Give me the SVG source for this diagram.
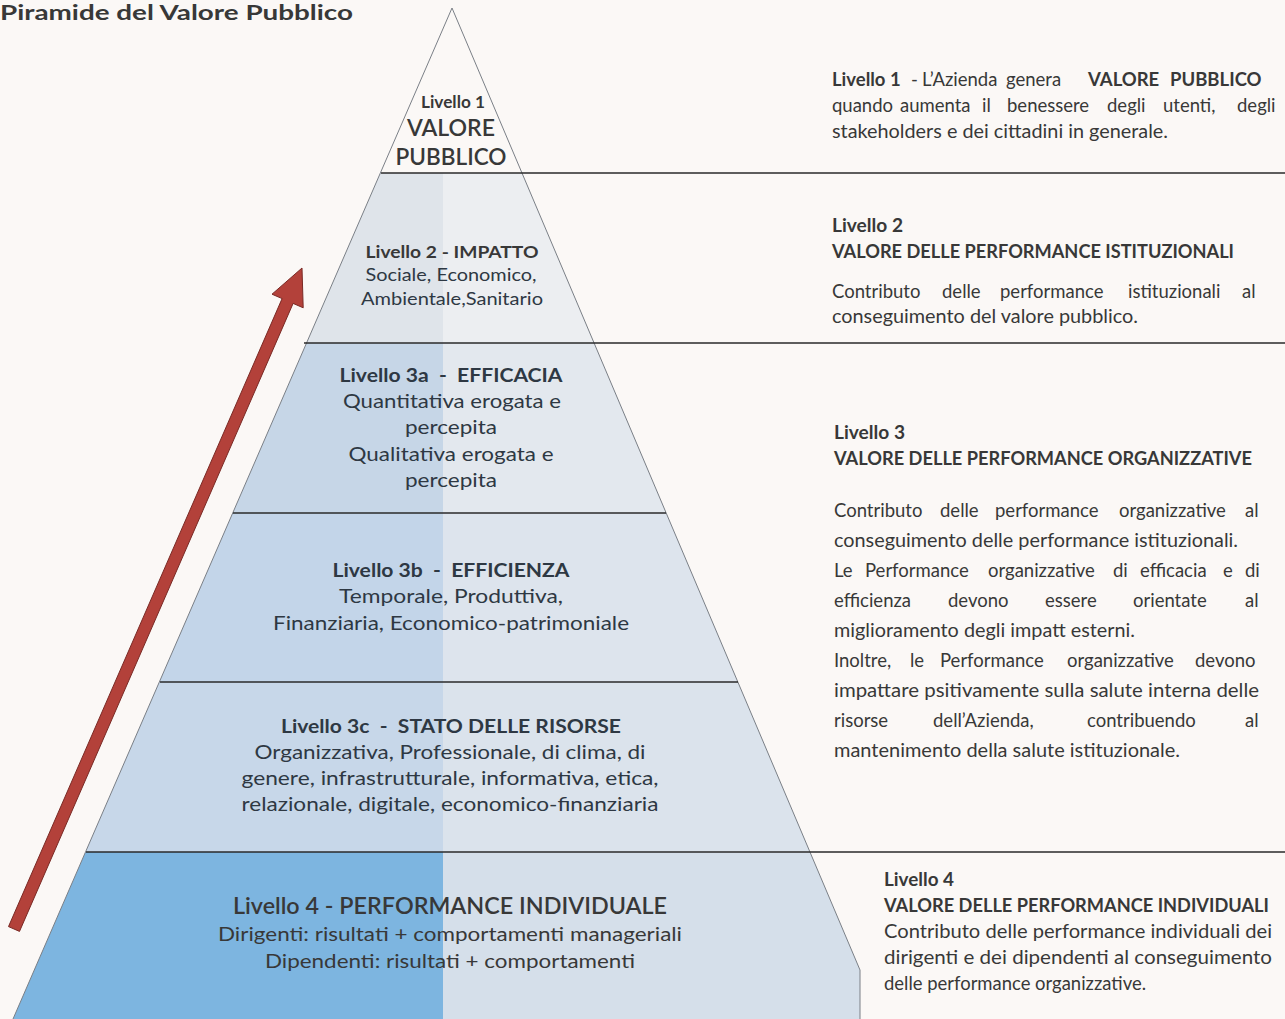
<svg xmlns="http://www.w3.org/2000/svg" width="1285" height="1019" viewBox="0 0 1285 1019">
<style>
text{font-family:Lato,"Liberation Sans",sans-serif;fill:#383838}
.b{font-weight:bold}
.pt{fill:#2e3843}
.mid{text-anchor:middle}
.div{stroke:#2a2a2a;stroke-width:1.6;fill:none}
</style>
<defs>
<clipPath id="pyr"><polygon points="452,8 860,970 860,1019 13,1019"/></clipPath>
</defs>
<rect width="1285" height="1019" fill="#fbf8f6"/>

<g id="title"><text x="0" y="20" class="b" font-size="21.5" fill="#444" textLength="353" lengthAdjust="spacingAndGlyphs">Piramide del Valore Pubblico</text></g>

<g id="pyramid-bands" clip-path="url(#pyr)">
<rect x="0" y="173" width="443" height="170" fill="#dfe4ea"/>
<rect x="443" y="173" width="450" height="170" fill="#eceef1"/>
<rect x="0" y="343" width="443" height="170" fill="#c6d6e7"/>
<rect x="443" y="343" width="450" height="170" fill="#e3e8ee"/>
<rect x="0" y="513" width="443" height="169" fill="#c3d5e9"/>
<rect x="443" y="513" width="450" height="169" fill="#dde4ed"/>
<rect x="0" y="682" width="443" height="170" fill="#c7d7e9"/>
<rect x="443" y="682" width="450" height="170" fill="#dbe3ec"/>
<rect x="0" y="852" width="443" height="167" fill="#7db5e0"/>
<rect x="443" y="852" width="450" height="167" fill="#d5dfea"/>
</g>
<polyline points="13,1019 452,8 860,970 860,1019" fill="none" stroke="#7a7f86" stroke-width="1"/>

<g id="dividers">
<line class="div" x1="381" y1="173" x2="1285" y2="173"/>
<line class="div" x1="304" y1="343" x2="1285" y2="343"/>
<line class="div" x1="233" y1="513" x2="666" y2="513" stroke="#555"/>
<line class="div" x1="160" y1="682" x2="738" y2="682" stroke="#555"/>
<line class="div" x1="86" y1="852" x2="1285" y2="852" stroke="#4a2a2c"/>
</g>

<g id="connectors">
<polygon points="8.5,926.6 282.1,298.6 272,294.2 302,268 303.2,307.8 293.1,303.4 19.5,931.4" fill="#b3413a" stroke="#7a2a25" stroke-width="1" stroke-linejoin="round"/>
</g>

<g id="level1">
<text x="453" y="108" class="mid b" font-size="17.5" fill="#3a3a3a" textLength="64" lengthAdjust="spacingAndGlyphs">Livello 1</text>
<text x="451" y="136" class="mid" font-size="23" fill="#333" font-weight="600" textLength="88" lengthAdjust="spacingAndGlyphs">VALORE</text>
<text x="451" y="165" class="mid" font-size="23" fill="#333" font-weight="600" textLength="111" lengthAdjust="spacingAndGlyphs">PUBBLICO</text>
</g>

<g id="level2">
<text x="452" y="258" class="mid b" font-size="17.5" textLength="173" lengthAdjust="spacingAndGlyphs">Livello 2 - IMPATTO</text>
<text x="451" y="281" class="mid pt" font-size="17.5" textLength="171" lengthAdjust="spacingAndGlyphs">Sociale, Economico,</text>
<text x="452" y="305" class="mid pt" font-size="17.5" textLength="182" lengthAdjust="spacingAndGlyphs">Ambientale,Sanitario</text>
</g>

<g id="level3a">
<text x="451" y="382" class="mid b pt" font-size="19.5" xml:space="preserve" textLength="223" lengthAdjust="spacingAndGlyphs">Livello 3a  -  EFFICACIA</text>
<text x="452" y="408" class="mid pt" font-size="20" textLength="218" lengthAdjust="spacingAndGlyphs">Quantitativa erogata e</text>
<text x="451" y="434" class="mid pt" font-size="20" textLength="92" lengthAdjust="spacingAndGlyphs">percepita</text>
<text x="451" y="461" class="mid pt" font-size="20" textLength="205" lengthAdjust="spacingAndGlyphs">Qualitativa erogata e</text>
<text x="451" y="487" class="mid pt" font-size="20" textLength="92" lengthAdjust="spacingAndGlyphs">percepita</text>
</g>

<g id="level3b">
<text x="451" y="577" class="mid b pt" font-size="19.5" xml:space="preserve" textLength="237" lengthAdjust="spacingAndGlyphs">Livello 3b  -  EFFICIENZA</text>
<text x="451" y="603" class="mid pt" font-size="20" textLength="224" lengthAdjust="spacingAndGlyphs">Temporale, Produttiva,</text>
<text x="451" y="630" class="mid pt" font-size="20" textLength="356" lengthAdjust="spacingAndGlyphs">Finanziaria, Economico-patrimoniale</text>
</g>

<g id="level3c">
<text x="451" y="733" class="mid b pt" font-size="19.5" xml:space="preserve" textLength="340" lengthAdjust="spacingAndGlyphs">Livello 3c  -  STATO DELLE RISORSE</text>
<text x="450" y="759" class="mid pt" font-size="20" textLength="391" lengthAdjust="spacingAndGlyphs">Organizzativa, Professionale, di clima, di</text>
<text x="450" y="785" class="mid pt" font-size="20" textLength="417" lengthAdjust="spacingAndGlyphs">genere, infrastrutturale, informativa, etica,</text>
<text x="450" y="811" class="mid pt" font-size="20" textLength="417" lengthAdjust="spacingAndGlyphs">relazionale, digitale, economico-finanziaria</text>
</g>

<g id="level4">
<text x="450" y="914" class="mid" font-size="22.5" font-weight="600" fill="#35506b" textLength="434" lengthAdjust="spacingAndGlyphs">Livello 4 - PERFORMANCE INDIVIDUALE</text>
<text x="450" y="941" class="mid" font-size="19.5" fill="#2e4258" textLength="464" lengthAdjust="spacingAndGlyphs">Dirigenti: risultati + comportamenti manageriali</text>
<text x="450" y="968" class="mid" font-size="19.5" fill="#2e4258" textLength="370" lengthAdjust="spacingAndGlyphs">Dipendenti: risultati + comportamenti</text>
</g>

<g id="desc1">
<text y="86" font-size="18.5"><tspan x="832" class="b">Livello 1</tspan><tspan x="911">-</tspan><tspan x="922">L’Azienda</tspan><tspan x="1006">genera</tspan><tspan x="1088" class="b">VALORE</tspan><tspan x="1170" class="b">PUBBLICO</tspan></text>
<text y="112" font-size="18.5"><tspan x="832">quando</tspan><tspan x="900">aumenta</tspan><tspan x="982">il</tspan><tspan x="1007">benessere</tspan><tspan x="1107">degli</tspan><tspan x="1163">utenti,</tspan><tspan x="1237">degli</tspan></text>
<text x="832" y="138" font-size="18.5" textLength="336" lengthAdjust="spacingAndGlyphs">stakeholders e dei cittadini in generale.</text>
</g>

<g id="desc2">
<text x="832" y="232" class="b" font-size="18.5" textLength="71" lengthAdjust="spacingAndGlyphs">Livello 2</text>
<text x="832" y="258" class="b" font-size="18.5" textLength="402" lengthAdjust="spacingAndGlyphs">VALORE DELLE PERFORMANCE ISTITUZIONALI</text>
<text y="298" font-size="18.5"><tspan x="832">Contributo</tspan><tspan x="942">delle</tspan><tspan x="1000">performance</tspan><tspan x="1128">istituzionali</tspan><tspan x="1242">al</tspan></text>
<text x="832" y="323" font-size="18.5" textLength="306" lengthAdjust="spacingAndGlyphs">conseguimento del valore pubblico.</text>
</g>

<g id="desc3">
<text x="834" y="439" class="b" font-size="18.5" textLength="71" lengthAdjust="spacingAndGlyphs">Livello 3</text>
<text x="834" y="465" class="b" font-size="18.5" textLength="418" lengthAdjust="spacingAndGlyphs">VALORE DELLE PERFORMANCE ORGANIZZATIVE</text>
<text y="517" font-size="18.5"><tspan x="834">Contributo</tspan><tspan x="940">delle</tspan><tspan x="995">performance</tspan><tspan x="1119">organizzative</tspan><tspan x="1245">al</tspan></text>
<text x="834" y="547" font-size="18.5" textLength="404" lengthAdjust="spacingAndGlyphs">conseguimento delle performance istituzionali.</text>
<text y="577" font-size="18.5"><tspan x="834">Le</tspan><tspan x="865">Performance</tspan><tspan x="988">organizzative</tspan><tspan x="1113">di</tspan><tspan x="1140">efficacia</tspan><tspan x="1223">e</tspan><tspan x="1245">di</tspan></text>
<text y="607" font-size="18.5"><tspan x="834">efficienza</tspan><tspan x="948">devono</tspan><tspan x="1045">essere</tspan><tspan x="1133">orientate</tspan><tspan x="1245">al</tspan></text>
<text x="834" y="637" font-size="18.5" textLength="301" lengthAdjust="spacingAndGlyphs">miglioramento degli impatt esterni.</text>
<text y="667" font-size="18.5"><tspan x="834">Inoltre,</tspan><tspan x="910">le</tspan><tspan x="940">Performance</tspan><tspan x="1067">organizzative</tspan><tspan x="1195">devono</tspan></text>
<text x="834" y="697" font-size="18.5" textLength="425" lengthAdjust="spacingAndGlyphs">impattare psitivamente sulla salute interna delle</text>
<text y="727" font-size="18.5"><tspan x="834">risorse</tspan><tspan x="933">dell’Azienda,</tspan><tspan x="1087">contribuendo</tspan><tspan x="1245">al</tspan></text>
<text x="834" y="757" font-size="18.5" textLength="346" lengthAdjust="spacingAndGlyphs">mantenimento della salute istituzionale.</text>
</g>

<g id="desc4">
<text x="884" y="886" class="b" font-size="18.5" textLength="70" lengthAdjust="spacingAndGlyphs">Livello 4</text>
<text x="884" y="912" class="b" font-size="18.5" textLength="385" lengthAdjust="spacingAndGlyphs">VALORE DELLE PERFORMANCE INDIVIDUALI</text>
<text x="884" y="938" font-size="18.5" textLength="388" lengthAdjust="spacingAndGlyphs">Contributo delle performance individuali dei</text>
<text x="884" y="964" font-size="18.5" textLength="388" lengthAdjust="spacingAndGlyphs">dirigenti e dei dipendenti al conseguimento</text>
<text x="884" y="990" font-size="18.5" textLength="262" lengthAdjust="spacingAndGlyphs">delle performance organizzative.</text>
</g>
</svg>
